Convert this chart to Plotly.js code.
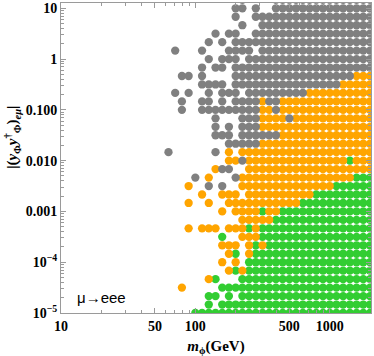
<!DOCTYPE html>
<html>
<head>
<meta charset="utf-8">
<script src="https://cdn.plot.ly/plotly-3.0.1.min.js"></script>
<style>html,body{margin:0;padding:0;background:#fff;}#chart{width:374px;height:356px;}</style>
</head>
<body>
<div id="chart"></div>
<script>
// Scan grid in m_phi (GeV), columns (log-spaced lattice)
const mPhi = [63.10, 70.79, 79.43, 89.13, 100.0, 112.2, 125.9, 141.3, 158.5, 177.8,
              199.5, 223.9, 251.2, 281.8, 316.2, 354.8, 398.1, 446.7, 501.2, 562.3,
              631.0, 707.9, 794.3, 891.3, 1000, 1122, 1259, 1413, 1585, 1778, 1995];
// Scan grid in |(y y^dagger)_emu|, rows from bottom (1e-5) to top
const yCoup = [1e-5, 1.468e-5, 2.154e-5, 3.162e-5, 4.642e-5, 6.813e-5,
               1e-4, 1.468e-4, 2.154e-4, 3.162e-4, 4.642e-4, 6.813e-4,
               1e-3, 1.468e-3, 2.154e-3, 3.162e-3, 4.642e-3, 6.813e-3,
               0.01, 0.01468, 0.02154, 0.03162, 0.04642, 0.06813,
               0.1, 0.1468, 0.2154, 0.3162, 0.4642, 0.6813,
               1, 1.468, 2.154, 3.162, 4.642, 6.813, 10, 14.68];
// Status of each scan point, one string per row (same order as yCoup),
// one character per mPhi column: G = gray, O = orange, L = green, . = no point
const rowStatus = [
  "....LLLLLLLLLLLLLLLLLLLLLLLLLLL",
  "......L.LLLLLLLLLLLLLLLLLLLLLLL",
  "......LL.L.LLLLLLLLLLLLLLLLLLLL",
  "..O.....LLLLLLLLLLLLLLLLLLLLLLL",
  "......OL...LLLLLLLLLLLLLLLLLLLL",
  ".........OLOLLLLLLLLLLLLLLLLLLL",
  "........O.O.LLLLLLLLLLLLLLLLLLL",
  ".........OL.OLLLLLLLLLLLLLLLLLL",
  "........OOO.OLOLLLLLLLLLLLLLLLL",
  "........L..OOOLLLLLLLLLLLLLLLLL",
  "...O.OOO.OOOLOLLLLLLLLLLLLLLLLL",
  "...........OOOOOLLLLLLLLLLLLLLL",
  "........O.OOOOLOOLLLLLLLLLLLLLL",
  "...O..O..OOOOOOOOOOOLLLLLLLLLLL",
  ".....O..OOO.OOOOOOOOOOLLLLLLLLL",
  "...O..G.G..OOOOOOOOOOOOOOLLLLLL",
  "....G.O...GOOOOOOOOOOOOOOOOOLLL",
  ".......OGG..OOOOOOOOOOOOOOOOOOO",
  ".........OOGOOOOOOOOOOOOOOOLOOO",
  "G......G.O.OOOOOOOOOOOOOOOOOOOO",
  ".........GGGGGOOOOOOOOOOOOOOOOO",
  ".......GGG.GGGGGGOOOOOOOOOOOOOO",
  ".......G.G.GGGOOOOOOOOOOOOOOOOO",
  ".......G...GGGOOOOGOOOOOOOOOOOO",
  "..G..GGGGGGGGGOOGOOOOOOOOOOOOOO",
  "..G..GG.G.GGGGOGGOOOOOOOOOOOOOO",
  ".G.G..G.GGG.GGGGGGGGGOOOOOOOOOO",
  ".....GGGG.GGGGGGGGGGGGGGGGOOOOO",
  "..GG.G....GGGGGGGGGGGGGGGGGGOOO",
  ".....G.GG.GGGGGGGGGGGGGGGGGGGGG",
  "......G.GGG.GGGGGGGGGGGGGGGGGGG",
  ".G...G...GGGG.GGGGGGGGGGGGGGGGG",
  "......G.G.GGGGGGGGGGGGGGGGGGGGG",
  ".......G.GG..GGGGGGGGGGGGGGGGGG",
  "...........G..GGGGGGGGGGGGGGGGG",
  "..........G..GGGGGGGGGGGGGGGGGG",
  "..........GG.G..GGGGGGGGGGGGGGG",
  "...........G....GGGGGGGGGGGGGGG"
];
const xTickVals = [10, 50, 100, 500, 1000];
const xTickText = ["10", "50", "100", "500", "1000"];
const yTickVals = [1e-5, 1e-4, 1e-3, 0.01, 0.1, 1, 10];
const yTickText = ["10<sup>\u22125</sup>", "10<sup>\u22124</sup>", "0.001", "0.010", "0.100", "1", "10"];

const classes = {G: {name: "excluded", color: "#808080"},
                 O: {name: "allowed", color: "#FFA500"},
                 L: {name: "future", color: "#32CD32"}};
const pts = {G: {x: [], y: []}, O: {x: [], y: []}, L: {x: [], y: []}};
rowStatus.forEach((row, r) => {
  for (let c = 0; c < row.length; c++) {
    const s = row[c];
    if (pts[s]) { pts[s].x.push(mPhi[c]); pts[s].y.push(yCoup[r]); }
  }
});
const order = ["L", "O", "G"];
const traces = order.map(k => ({
  type: "scatter", mode: "markers", x: pts[k].x, y: pts[k].y, name: classes[k].name,
  marker: {color: classes[k].color, size: 8.3, line: {width: 0}},
  hoverinfo: "x+y", cliponaxis: true
}));

function minorVals(lo, hi) {
  const v = [];
  for (let e = lo; e <= hi; e++) for (let d = 2; d <= 9; d++) v.push(d * Math.pow(10, e));
  return v;
}
const frame = "#9a9a9a";
const serif = "Liberation Serif, Times New Roman, serif";
const tickFont = {family: serif, size: 14, color: "#000", weight: "bold"};
const layout = {
  width: 374, height: 356,
  margin: {l: 61, r: 3, t: 3, b: 43},
  paper_bgcolor: "#fff", plot_bgcolor: "#fff",
  showlegend: false,
  xaxis: {
    type: "log", range: [1, 3.3075], showgrid: false, zeroline: false,
    showline: true, mirror: "ticks", linecolor: frame, linewidth: 1,
    ticks: "inside", ticklen: 5, tickcolor: frame, tickwidth: 1,
    tickmode: "array", tickvals: xTickVals, ticktext: xTickText,
    tickfont: tickFont,
    minor: {tickmode: "array", tickvals: minorVals(1, 3), ticks: "inside", ticklen: 3, tickcolor: frame},
    title: {text: "<i>m</i><sub>\u03d5</sub>(GeV)", font: {family: serif, size: 15, color: "#000", weight: "bold"}, standoff: 8}
  },
  yaxis: {
    type: "log", range: [-5, 1.104], showgrid: false, zeroline: false,
    showline: true, mirror: "ticks", linecolor: frame, linewidth: 1,
    ticks: "inside", ticklen: 5, tickcolor: frame, tickwidth: 1,
    tickmode: "array", tickvals: yTickVals, ticktext: yTickText,
    tickfont: tickFont,
    minor: {tickmode: "array", tickvals: minorVals(-5, 1), ticks: "inside", ticklen: 3, tickcolor: frame},
    title: {text: ""}
  },
  annotations: [{
    xref: "paper", yref: "paper", x: -0.158, y: 0.565, xanchor: "center", yanchor: "middle",
    textangle: -90, showarrow: false,
    text: "|(<i>y</i><sub>\u03a6</sub><i>y</i><sup>\u2020</sup><sub>\u03a6</sub>)<sub><i>e\u03bc</i></sub>|",
    font: {family: serif, size: 15, color: "#000", weight: "bold"}
  }, {
    xref: "paper", yref: "paper", x: 0.045, y: 0.05, xanchor: "left", yanchor: "middle",
    text: "\u03bc\u2192eee", showarrow: false,
    font: {family: "Liberation Sans, Arial, sans-serif", size: 15, color: "#000"}
  }]
};
Plotly.newPlot("chart", traces, layout, {staticPlot: true, displayModeBar: false});
</script>
</body>
</html>
